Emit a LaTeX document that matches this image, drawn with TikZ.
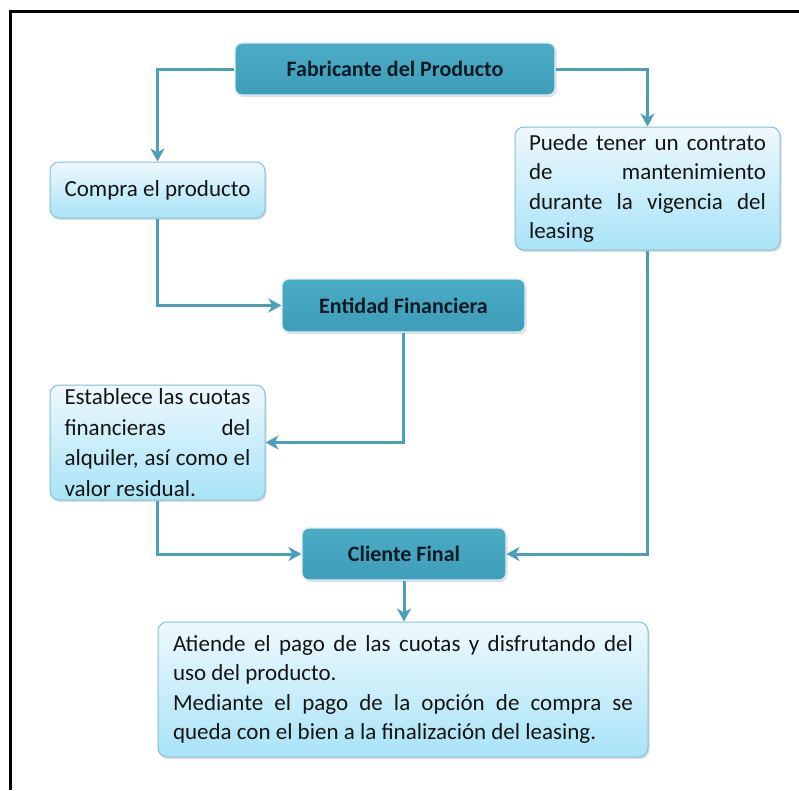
\documentclass[tikz,border=0pt]{standalone}
\usepackage{fontspec}
\setmainfont{Carlito}
\usetikzlibrary{arrows.meta,shadows}
\definecolor{darkfill}{HTML}{4BACC6}
\definecolor{darkfillb}{HTML}{3E9DB8}
\definecolor{lighttop}{HTML}{EEF9FD}
\definecolor{lightbot}{HTML}{A8E3F7}
\definecolor{lightborder}{HTML}{86C0D2}
\definecolor{conncol}{HTML}{4A9FBA}
\definecolor{textcol}{HTML}{151515}
\definecolor{headtext}{HTML}{0C1A24}
\begin{document}
\begin{tikzpicture}[x=1pt,y=-1pt,
  headbox/.style={rectangle, rounded corners=7pt, top color=darkfill, bottom color=darkfillb,
    draw=white!80!darkfill, line width=1.2pt, inner sep=0pt,
    drop shadow={opacity=0.25, shadow xshift=1.5pt, shadow yshift=-2pt},
    font=\fontsize{22}{27}\selectfont\bfseries, text=headtext},
  infobox/.style={rectangle, rounded corners=9pt, top color=lighttop, bottom color=lightbot,
    draw=lightborder, line width=1pt, inner xsep=13pt, inner ysep=0pt,
    drop shadow={opacity=0.25, shadow xshift=1.5pt, shadow yshift=-2pt},
    font=\fontsize{23}{29.5}\selectfont, text=textcol},
  conn/.style={draw=conncol, line width=3pt, -{Stealth[length=13pt,width=14pt,inset=4pt]}},
  framel/.style={draw=black, line width=3pt}
]
\useasboundingbox (0,0) rectangle (799,790);
\fill[white] (0,0) rectangle (799,790);
\draw[framel] (10,790) -- (10,11) -- (799,11);

\node[headbox, minimum width=320pt, minimum height=52pt] (fab) at (395,69) {Fabricante del Producto};
\node[infobox, minimum width=215pt, minimum height=56pt] (compra) at (157.5,190) {Compra el producto};
\node[infobox, minimum width=265pt, minimum height=123pt, text width=237pt, align=justify] (puede) at (647.5,188.5)
  {Puede tener un contrato\linebreak de mantenimiento\linebreak durante la vigencia del\linebreak leasing};
\node[headbox, minimum width=243pt, minimum height=53pt] (entidad) at (403.5,305.5) {Entidad Financiera};
\node[infobox, minimum width=215pt, minimum height=115pt, text width=186pt, align=justify, inner xsep=14.5pt,
  font=\fontsize{23}{30.5}\selectfont] (estab) at (157.5,442.5)
  {Establece las cuotas\linebreak financieras del\linebreak alquiler, así como el\linebreak valor residual.};
\node[headbox, minimum width=204pt, minimum height=52pt] (cliente) at (404,554) {Cliente Final};
\node[infobox, minimum width=490pt, minimum height=135pt, text width=460pt, align=justify, inner xsep=15pt] (atiende) at (403,689.5)
  {Atiende el pago de las cuotas y disfrutando del\linebreak uso del producto.\\ Mediante el pago de la opción de compra se\linebreak queda con el bien a la finalización del leasing.};

\draw[conn] (fab.west) -| (compra.north);
\draw[conn] (fab.east) -| (puede.north);
\draw[conn] (compra.south) |- (entidad.west);
\draw[conn] (entidad.south) |- (estab.east);
\draw[conn] (estab.south) |- (cliente.west);
\draw[conn] (puede.south) |- (cliente.east);
\draw[conn] (cliente.south) -- (cliente.south |- atiende.north);
\end{tikzpicture}
\end{document}
